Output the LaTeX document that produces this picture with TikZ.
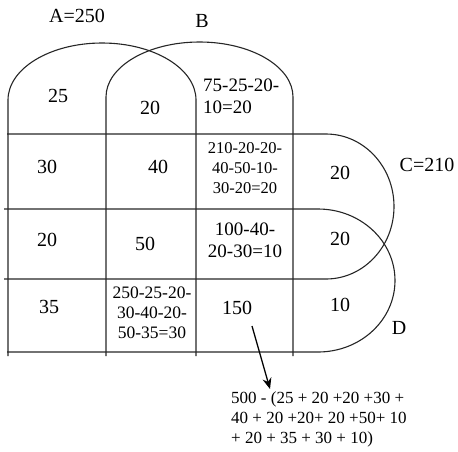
\documentclass[tikz,border=0pt]{standalone}
\usepackage{fontspec}
\setmainfont{Liberation Serif}
\usetikzlibrary{arrows.meta}
\begin{document}
\begin{tikzpicture}[x=1pt,y=1pt,
  ln/.style={line width=1.1pt,draw=black!85},
  big/.style={font=\fontsize{20}{24}\selectfont,inner sep=0pt},
  eqa/.style={font=\fontsize{19}{22}\selectfont,inner sep=0pt,align=left},
  eqb/.style={font=\fontsize{16.5}{20}\selectfont,inner sep=0pt,align=center},
  eqc/.style={font=\fontsize{19}{22}\selectfont,inner sep=0pt,align=center},
  eqd/.style={font=\fontsize{17.5}{20}\selectfont,inner sep=0pt,align=center},
  eqe/.style={font=\fontsize{17}{20}\selectfont,inner sep=0pt,align=left}]
\path[use as bounding box] (0,0) rectangle (458,-451);
% set A
\draw[ln] (8,-356) -- (8,-100) arc[start angle=180,end angle=0,x radius=94,y radius=57] -- (196,-356);
% set B
\draw[ln] (106,-356) -- (106,-97) arc[start angle=180,end angle=0,x radius=93.5,y radius=55] -- (293,-356);
% set C
\draw[ln] (7,-134) -- (326,-134) arc[start angle=90,end angle=-90,x radius=68,y radius=72.5] -- (4,-279);
% set D
\draw[ln] (4,-209) -- (318,-209) arc[start angle=90,end angle=-90,x radius=77,y radius=71.5] -- (7,-352);
% labels
\node[big] (lA) at (77,-16) {A=250};
\node[big] (lB) at (202,-21) {B};
\node[big] (lC) at (427,-165) {C=210};
\node[big] (lD) at (399,-328) {D};
% values
\node[big] (v1) at (58,-96) {25};
\node[big] (v2) at (150,-108) {20};
\node[eqa,anchor=west] (v3) at (203,-96) {75-25-20-\\10=20};
\node[big] (v4) at (47,-167) {30};
\node[big] (v5) at (158,-167) {40};
\node[eqb] (v6) at (245,-168) {210-20-20-\\40-50-10-\\30-20=20};
\node[big] (v7) at (340,-173) {20};
\node[big] (v8) at (47,-240) {20};
\node[big] (v9) at (145,-244) {50};
\node[eqc] (v10) at (245,-240) {100-40-\\20-30=10};
\node[big] (v11) at (340,-239) {20};
\node[big] (v12) at (49,-307) {35};
\node[eqd] (v13) at (152,-313) {250-25-20-\\30-40-20-\\50-35=30};
\node[big] (v14) at (237,-308) {150};
\node[big] (v15) at (340,-305) {10};
\node[eqe,anchor=west] (tot) at (231,-419) {500 - (25 + 20 +20 +30 +\\40 + 20 +20+ 20 +50+ 10\\+ 20 + 35 + 30 + 10)};
\coordinate (arS) at (252,-326);
\coordinate (arE) at (270,-389);
\draw[line width=1.3pt,-{Stealth[length=11pt,width=9pt]}] (arS) -- (arE);
\end{tikzpicture}
\end{document}
